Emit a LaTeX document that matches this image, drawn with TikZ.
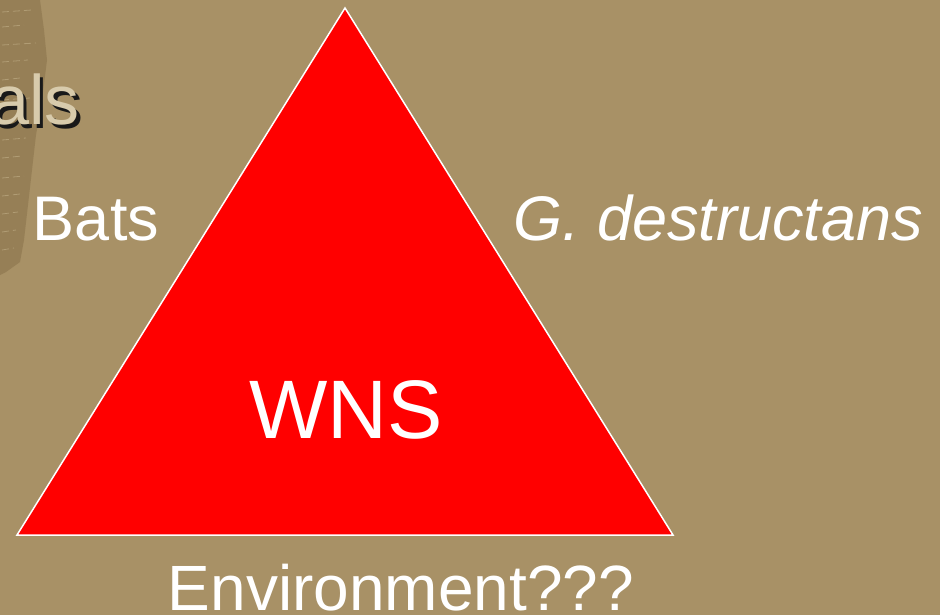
\documentclass[tikz,border=0pt]{standalone}
\usepackage{fontspec}
\setmainfont{Liberation Sans}
\definecolor{tan}{RGB}{168,145,102}
\definecolor{bark}{RGB}{150,127,86}
\definecolor{barkline}{RGB}{176,156,116}
\definecolor{titlebeige}{RGB}{216,203,172}
\tikzstyle{every node}=[inner sep=0pt,anchor=base]
\tikzstyle{label}=[text=white,font=\fontsize{63}{63}\selectfont]
\tikzstyle{core}=[text=white,font=\fontsize{83}{83}\selectfont]

\begin{document}
\begin{tikzpicture}[x=1pt,y=-1pt]
    \fill[tan] (0,0) rectangle (940,615);
    \useasboundingbox (0,0) rectangle (940,615);
    % bark strip on the left edge
    \fill[bark] (0,0) -- (40,0) -- (44,30) -- (47,60) -- (42,100) -- (36,135)
        -- (32,170) -- (28,205) -- (24,240) -- (20,262) -- (6,272) -- (0,275) -- cycle;
    \foreach \y/\l in {12/30, 27/22, 45/34, 62/26, 80/18, 100/28, 140/24, 158/20, 178/22, 196/18, 214/16, 232/14, 250/12}
        \draw[barkline, line width=0.8pt, dash pattern=on 7pt off 4pt] (2,\y) -- ++(\l,-2);
    % title fragment
    \node[text=black!90, font=\fontsize{70}{70}\selectfont, anchor=base east] (titleshadow) at (83.5,128.5) {als};
    \node[text=titlebeige, font=\fontsize{70}{70}\selectfont, anchor=base east] (title) at (80,125) {als};
    % triangle
    \coordinate (apex) at (345,8);
    \coordinate (baseleft) at (17,535);
    \coordinate (baseright) at (673,535);
    \filldraw[fill=red, draw=white, line width=1.5pt] (apex) -- (baseleft) -- (baseright) -- cycle;
    % labels
    \node[core] (wns) at (346,438) {WNS};
    \node[label] (bats) at (96,240) {Bats};
    \node[label] (fungus) at (718,240) {\itshape G. destructans};
    \node[label, font=\fontsize{64}{64}\selectfont] (environment) at (401,610) {Environment???};
\end{tikzpicture}
\end{document}
